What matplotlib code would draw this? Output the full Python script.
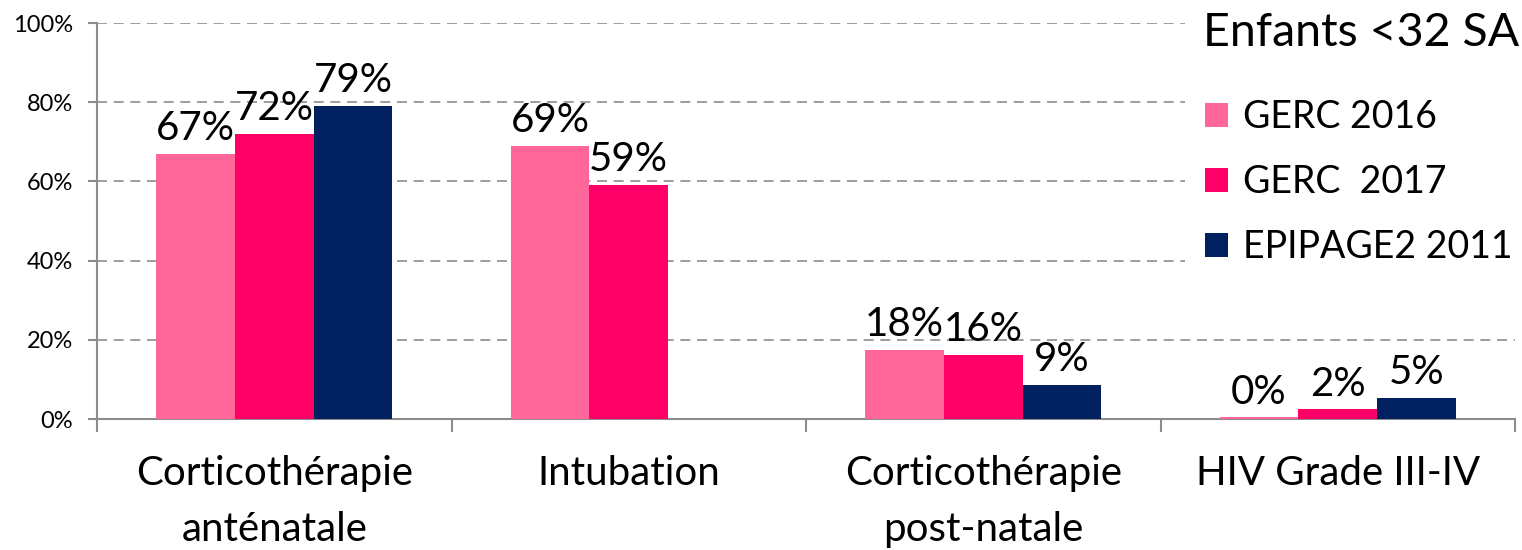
import matplotlib
matplotlib.use("Agg")
import matplotlib.pyplot as plt
from matplotlib.patches import Rectangle
import numpy as np

plt.rcParams['font.family'] = ['Lato', 'DejaVu Sans']

# ===== data =====
categories = ["Corticothérapie\nanténatale", "Intubation",
              "Corticothérapie\npost-natale", "HIV Grade III-IV"]
series_names = ["GERC 2016", "GERC  2017", "EPIPAGE2 2011"]
gerc_2016 = [67, 69, 17.5, 0.4]
gerc_2017 = [72, 59, 16.2, 2.4]
epipage2_2011 = [79, np.nan, 8.7, 5.4]
colors = ["#FF6699", "#FF0066", "#002060"]
legend_title = "Enfants <32 SA"

W, H = 1522, 550
fig = plt.figure(figsize=(W / 100, H / 100), dpi=100)
ax = fig.add_axes([97 / W, 1 - 419 / H, (1515 - 97) / W, (419 - 23) / H])

x = np.arange(len(categories))
w = 0.222
all_series = [gerc_2016, gerc_2017, epipage2_2011]
handles = []
for i, (vals, name, col) in enumerate(zip(all_series, series_names, colors)):
    pos = x + (i - 1) * w
    bars = ax.bar(pos, vals, width=w, color=col, label=name, zorder=3)
    handles.append(bars)
    for xp, v in zip(pos, vals):
        if np.isnan(v):
            continue
        ax.annotate(f"{round(v)}%", (xp, v), xytext=(0, 10), textcoords="offset points",
                    ha="center", va="baseline", fontsize=29, zorder=4)

ax.set_xlim(-0.5, len(categories) - 0.5)
ax.set_ylim(0, 100)
ax.set_yticks(range(0, 101, 20))
ax.set_yticklabels([f"{t}%" for t in range(0, 101, 20)], fontsize=17)
ax.yaxis.grid(True, linestyle=(0, (6, 4)), color="#8c8c8c", linewidth=1.2, zorder=0)

# category labels between boundary ticks
ax.set_xticks(np.arange(-0.5, len(categories), 1.0))
ax.set_xticklabels([])
ax.set_xticks(x, minor=True)
ax.set_xticklabels(categories, minor=True, fontsize=29, linespacing=1.62)
ax.tick_params(axis="x", which="minor", length=0, pad=26)
ax.tick_params(axis="x", which="major", length=9.5, color="#8c8c8c", width=1.5)
ax.tick_params(axis="y", length=6.5, color="#8c8c8c", width=1.5, pad=11)

for s in ["top", "right"]:
    ax.spines[s].set_visible(False)
for s in ["left", "bottom"]:
    ax.spines[s].set_color("#8c8c8c")
    ax.spines[s].set_linewidth(1.5)

# white box behind the legend hides the grid there
ax.add_patch(Rectangle((1185 / W, 1 - 290 / H), (W - 1185) / W, 290 / H,
                       transform=fig.transFigure, facecolor="white",
                       edgecolor="none", zorder=2, clip_on=False))

fig.text(1203 / W, 1 - 33 / H, legend_title, fontsize=33.5, va="center", ha="left")
fig.legend(handles, series_names, loc="upper left",
           bbox_to_anchor=(1205 / W, 1 - 99 / H), bbox_transform=fig.transFigure,
           fontsize=27, frameon=False, borderpad=0, borderaxespad=0,
           handlelength=0.61, handleheight=0.61, handletextpad=0.4,
           labelspacing=0.78)

fig.savefig("out.png", dpi=100)
